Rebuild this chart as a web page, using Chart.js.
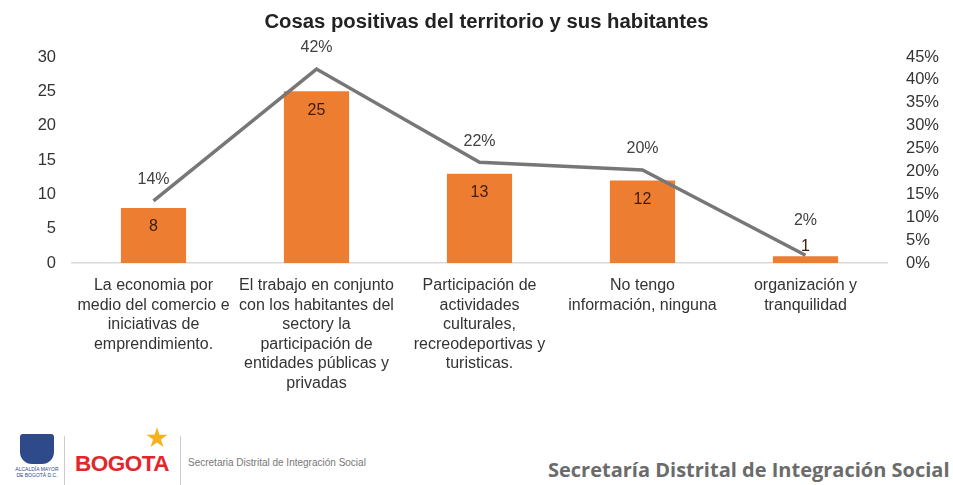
<!DOCTYPE html>
<html>
<head>
<meta charset="utf-8">
<script src="https://cdn.jsdelivr.net/npm/chart.js@4/dist/chart.umd.min.js"></script>
<style>
  html, body { margin:0; padding:0; background:#fff; width:953px; height:485px; overflow:hidden; font-family:"Liberation Sans", Arial, sans-serif; }
  #wrap { position:absolute; left:0; top:0; width:953px; height:400px; }
  .title { position:absolute; left:10px; top:9px; width:953px; text-align:center; font-size:20.3px; font-weight:bold; color:#222; white-space:nowrap; line-height:24px; }
  .footer { position:absolute; left:0; top:400px; width:953px; height:85px; }
  .shield { position:absolute; left:20px; top:34px; width:34px; height:30px; background:#2f4a8a; border-radius:3px 3px 12px 12px; }
  .shield-cap { position:absolute; left:13px; top:66px; font-size:5px; color:#2f4a8a; line-height:6px; width:48px; text-align:center; white-space:nowrap; }
  .vline1 { position:absolute; left:64px; top:36px; width:1px; height:49px; background:#ccc; }
  .bogota { position:absolute; left:75px; top:51px; font-size:22.5px; font-weight:bold; color:#e3262c; letter-spacing:-0.5px; white-space:nowrap; }
  .star { position:absolute; left:146px; top:27px; width:22px; height:22px; background:#f6b21b; clip-path:polygon(50% 0%,61% 35%,98% 35%,68% 57%,79% 91%,50% 70%,21% 91%,32% 57%,2% 35%,39% 35%); }
  .vline2 { position:absolute; left:180px; top:36px; width:1px; height:49px; background:#ccc; }
  .small { position:absolute; left:188px; top:57px; font-size:10px; color:#777; white-space:nowrap; }
  .big { position:absolute; left:548px; top:56px; font-size:20px; font-weight:bold; color:#6b6b6b; font-family:"Open Sans", "DejaVu Sans", sans-serif; white-space:nowrap; }
</style>
</head>
<body>
<div id="wrap"><canvas id="c" width="953" height="400"></canvas></div>
<div class="title" id="title"></div>
<div class="footer">
  <div class="shield"></div>
  <div class="shield-cap">ALCALDÍA MAYOR<br>DE BOGOTÁ D.C.</div>
  <div class="vline1"></div>
  <div class="star"></div>
  <div class="bogota">BOGOTA</div>
  <div class="vline2"></div>
  <div class="small">Secretaria Distrital de Integración Social</div>
  <div class="big">Secretaría Distrital de Integración Social</div>
</div>
<script>
const categories = [
  ["La economia por", "medio del comercio e", "iniciativas de", "emprendimiento."],
  ["El trabajo en conjunto", "con los habitantes del", "sectory la", "participación de", "entidades públicas y", "privadas"],
  ["Participación de", "actividades", "culturales,", "recreodeportivas y", "turisticas."],
  ["No tengo", "información, ninguna"],
  ["organización y", "tranquilidad"]
];
const counts = [8, 25, 13, 12, 1];
const percents = [13.56, 42.37, 22.03, 20.34, 1.69];
const leftTicks = [0, 5, 10, 15, 20, 25, 30];
const rightTicks = [0, 5, 10, 15, 20, 25, 30, 35, 40, 45];
const titleText = "Cosas positivas del territorio y sus habitantes";

document.getElementById('title').textContent = titleText;

const FONT = '"Liberation Sans", Arial, sans-serif';

const labelPlugin = {
  id: 'valueLabels',
  afterDatasetsDraw(chart) {
    const ctx = chart.ctx;
    const barMeta = chart.getDatasetMeta(0);
    const lineMeta = chart.getDatasetMeta(1);
    ctx.save();
    ctx.textAlign = 'center';
    ctx.textBaseline = 'middle';
    ctx.font = '16px ' + FONT;
    const smallBar = [];
    barMeta.data.forEach((bar, i) => {
      const h = bar.base - bar.y;
      let y;
      if (h < 30) { y = bar.y - 10; smallBar[i] = true; } else { y = bar.y + 19; }
      ctx.fillStyle = '#3b1c08';
      ctx.fillText(String(counts[i]), bar.x, y);
    });
    lineMeta.data.forEach((pt, i) => {
      ctx.fillStyle = '#404040';
      const off = smallBar[i] ? 35 : 21;
      ctx.fillText(Math.round(percents[i]) + '%', pt.x, pt.y - off);
    });
    ctx.restore();
  }
};

new Chart(document.getElementById('c'), {
  type: 'bar',
  data: {
    labels: categories,
    datasets: [
      {
        type: 'bar',
        data: counts,
        backgroundColor: '#ED7D31',
        yAxisID: 'y',
        categoryPercentage: 1,
        barPercentage: 0.4,
        order: 2
      },
      {
        type: 'line',
        data: percents,
        yAxisID: 'y1',
        borderColor: '#777777',
        borderWidth: 3.5,
        pointRadius: 0,
        tension: 0,
        fill: false,
        order: 1
      }
    ]
  },
  options: {
    responsive: false,
    animation: false,
    devicePixelRatio: 1,
    layout: { padding: { top: 57, left: 0, right: 0, bottom: 0 } },
    plugins: {
      legend: { display: false },
      tooltip: { enabled: false },
      title: { display: false }
    },
    scales: {
      x: {
        grid: { display: false },
        border: { display: true, color: '#d9d9d9', width: 1.5 },
        ticks: {
          color: '#333',
          font: { family: FONT, size: 16, lineHeight: '19.5px' },
          maxRotation: 0, minRotation: 0, autoSkip: false, padding: 5
        },
        afterFit(s) { s.height = 137; }
      },
      y: {
        position: 'left',
        min: 0, max: 30,
        grid: { display: false, drawTicks: false },
        border: { display: false },
        afterBuildTicks(s) { s.ticks = leftTicks.map(v => ({ value: v })); },
        ticks: {
          color: '#333',
          font: { family: FONT, size: 16.5 },
          padding: 16
        },
        afterFit(s) { s.width = 72; }
      },
      y1: {
        position: 'right',
        min: 0, max: 45,
        grid: { display: false, drawTicks: false },
        border: { display: false },
        afterBuildTicks(s) { s.ticks = rightTicks.map(v => ({ value: v })); },
        ticks: {
          color: '#333',
          font: { family: FONT, size: 16.5 },
          padding: 19,
          callback: v => v + '%'
        },
        afterFit(s) { s.width = 66; }
      }
    }
  },
  plugins: [labelPlugin]
});
</script>
</body>
</html>
